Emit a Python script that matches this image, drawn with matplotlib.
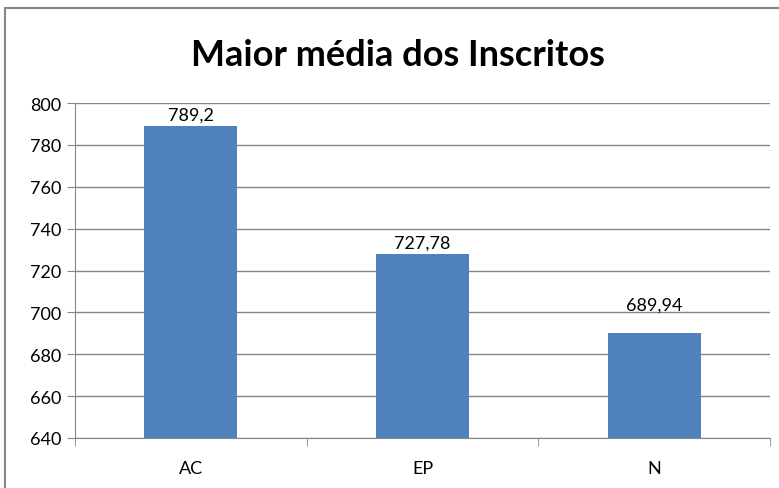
import matplotlib.pyplot as plt
from matplotlib.patches import Rectangle

categorias = ['AC', 'EP', 'N']
medias = [789.2, 727.78, 689.94]
rotulos = ['789,2', '727,78', '689,94']
yticks = [640, 660, 680, 700, 720, 740, 760, 780, 800]
# deslocamento dos rotulos (o do N esta mais alto no original)
desloc = [1.5, 1.5, 10]

plt.rcParams['font.family'] = ['Lato', 'DejaVu Sans']

fig = plt.figure(figsize=(7.79, 4.89), dpi=100)
# moldura do grafico (estilo Excel)
fig.patches.append(Rectangle((5/779, -0.1), 1.2, 1.1 - 9/489, transform=fig.transFigure,
                             fill=False, edgecolor='#868686', linewidth=1.5))

ax = fig.add_axes([75/779, 1 - 439/489, 695/779, 335/489])
x = range(len(categorias))
ax.bar(x, medias, width=0.4, color='#4F81BD', zorder=3)
for i, v in enumerate(medias):
    ax.text(i, v + desloc[i], rotulos[i], ha='center', va='bottom', fontsize=13, color='black')

ax.set_xlim(-0.5, 2.5)
ax.set_ylim(640, 800)
ax.set_yticks(yticks)
ax.set_yticklabels([str(t) for t in yticks], fontsize=13)
ax.set_xticks(list(x))
ax.set_xticklabels(categorias, fontsize=13)
ax.tick_params(axis='x', length=0, pad=16)
ax.set_xticks([-0.5, 0.5, 1.5, 2.5], minor=True)
ax.tick_params(axis='x', which='minor', length=6, color='#868686')
ax.tick_params(axis='y', length=6, color='#868686', pad=4)
ax.grid(axis='y', color='#868686', linewidth=1, zorder=0)
for s in ['top', 'right']:
    ax.spines[s].set_visible(False)
ax.spines['left'].set_color('#868686')
ax.spines['bottom'].set_color('#868686')

fig.text(398/779, 1 - 55/489, 'Maior média dos Inscritos', ha='center', va='center',
         fontsize=26, fontweight='bold')

fig.savefig('out.png', dpi=100)
